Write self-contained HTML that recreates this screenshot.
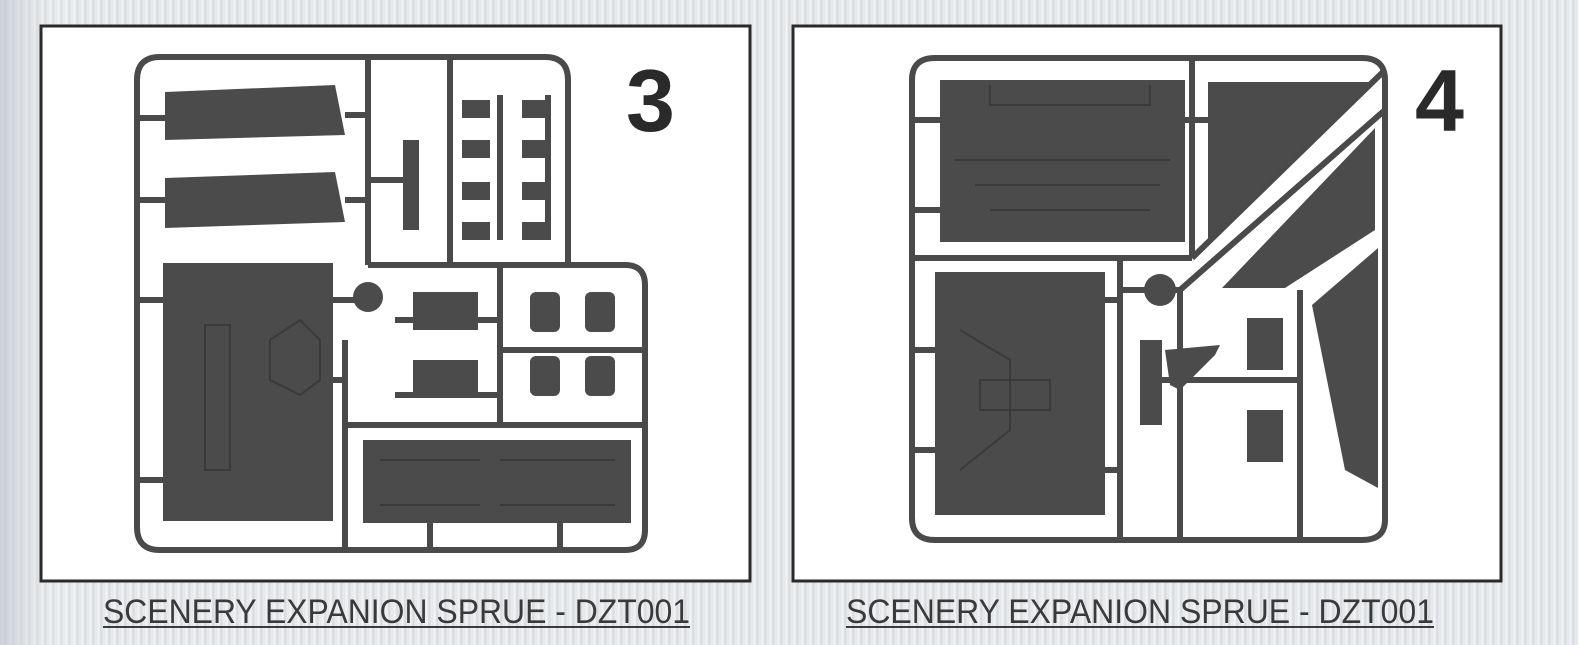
<!DOCTYPE html>
<html><head><meta charset="utf-8"><style>
html,body{margin:0;padding:0;width:1579px;height:645px;overflow:hidden}
body{background:repeating-linear-gradient(90deg,#e4e7ea 0px,#f3f4f6 3px,#d5d9dd 5px,#eceef0 8px);}
</style></head><body>
<svg width="1579" height="645" viewBox="0 0 1579 645" xmlns="http://www.w3.org/2000/svg" style="position:absolute;left:0;top:0">
<defs>
<linearGradient id="bg" x1="0" x2="1" y1="0" y2="0">
<stop offset="0" stop-color="#b9c0c8" stop-opacity="0.6"/><stop offset="0.05" stop-color="#fff" stop-opacity="0"/>
</linearGradient>
</defs>
<rect width="1579" height="645" fill="url(#bg)"/>
<rect x="41" y="26" width="709" height="555" fill="#fff" stroke="#2a2a2a" stroke-width="3"/>
<rect x="793" y="26" width="708" height="555" fill="#fff" stroke="#2a2a2a" stroke-width="3"/>

<!-- sprue 3 -->
<g fill="none" stroke="#4a4a4a" stroke-width="6">
<path d="M160 57 H545 Q568 57 568 80 V265 H625 Q645 265 645 285 V530 Q645 550 625 550 H160 Q137 550 137 527 V80 Q137 57 160 57 Z"/>
<path d="M368 57 V265 M368 180 H405 M450 57 V265 M500 95 V240 M548 95 V240 M368 265 H568 M345 425 H645 M345 425 V550 M500 265 V425 M500 350 H645 M395 320 H500 M395 395 H500 M345 340 V425"/>
<path d="M137 118 H165 M137 200 H165 M137 300 H165 M137 480 H165 M345 115 H368 M345 200 H368 M332 300 H368 M332 380 H345 M430 550 V522 M560 550 V522"/>
</g>
<g fill="#4b4b4b">
<path d="M165 92 L335 85 L345 135 L165 140 Z"/>
<path d="M165 178 L335 172 L345 222 L165 228 Z"/>
<rect x="163" y="263" width="170" height="258"/>
<rect x="363" y="440" width="268" height="83"/>
<rect x="403" y="140" width="16" height="90"/>
<circle cx="368" cy="297" r="15"/>
<rect x="413" y="292" width="65" height="38"/>
<rect x="413" y="360" width="65" height="38"/>
<g>
<rect x="462" y="100" width="28" height="18"/><rect x="522" y="100" width="28" height="18"/>
<rect x="462" y="140" width="28" height="18"/><rect x="522" y="140" width="28" height="18"/>
<rect x="462" y="182" width="28" height="18"/><rect x="522" y="182" width="28" height="18"/>
<rect x="462" y="222" width="28" height="18"/><rect x="522" y="222" width="28" height="18"/>
</g>
<rect x="530" y="292" width="30" height="40" rx="6"/><rect x="585" y="292" width="30" height="40" rx="6"/>
<rect x="530" y="356" width="30" height="40" rx="6"/><rect x="585" y="356" width="30" height="40" rx="6"/>
</g>
<g fill="none" stroke="#333" stroke-width="2" opacity="0.7">
<path d="M205 325 H230 V470 H205 Z M270 340 L300 320 L320 340 V380 L300 395 L270 380 Z M380 460 H480 M380 505 H480 M500 460 H615 M500 505 H615"/>
</g>
<text x="626" y="131" font-family="Liberation Sans, sans-serif" font-size="88" font-weight="bold" fill="#2a2a2a">3</text>

<!-- sprue 4 -->
<g fill="none" stroke="#4a4a4a" stroke-width="6">
<path d="M935 58 H1362 Q1385 58 1385 80 V520 Q1385 540 1362 540 H935 Q912 540 912 518 V80 Q912 58 935 58 Z"/>
<path d="M1192 58 V258 M1192 258 L1385 70 M1120 290 H1180 L1385 110 M1300 290 V540 M1180 290 V540 M912 258 H1192 M1120 260 V540 M1140 380 H1300"/>
<path d="M912 120 H940 M912 210 H940 M912 350 H935 M912 450 H935 M1185 120 H1210 M1105 300 H1120 M1105 470 H1120"/>
</g>
<g fill="#4b4b4b">
<rect x="940" y="80" width="245" height="162"/>
<rect x="935" y="272" width="170" height="243"/>
<path d="M1208 82 H1370 L1208 240 Z"/>
<path d="M1375 128 V230 L1285 288 H1222 Z"/>
<path d="M1378 248 V488 L1345 470 L1312 305 Z"/>
<circle cx="1160" cy="290" r="16"/>
<rect x="1140" y="340" width="22" height="85"/>
<path d="M1165 350 L1220 345 L1215 355 L1180 390 L1170 385 Z"/>
<rect x="1247" y="318" width="36" height="52"/>
<rect x="1247" y="410" width="36" height="52"/>
</g>
<g fill="none" stroke="#333" stroke-width="2" opacity="0.7">
<path d="M990 85 V105 H1150 V85 M955 160 H1170 M975 185 H1160 M990 210 H1150 M960 330 L1010 360 V430 L960 470 M980 380 H1050 V410 H980 Z"/>
</g>
<text x="1415" y="131" font-family="Liberation Sans, sans-serif" font-size="88" font-weight="bold" fill="#2a2a2a">4</text>

<!-- captions -->
<g font-family="Liberation Sans, sans-serif" font-size="34" fill="#3a3a3a">
<text x="103" y="623" textLength="587" lengthAdjust="spacingAndGlyphs">SCENERY EXPANION SPRUE - DZT001</text>
<text x="846" y="623" textLength="588" lengthAdjust="spacingAndGlyphs">SCENERY EXPANION SPRUE - DZT001</text>
</g>
<rect x="103" y="626" width="587" height="2" fill="#3a3a3a"/>
<rect x="846" y="626" width="588" height="2" fill="#3a3a3a"/>
</svg>
</body></html>
